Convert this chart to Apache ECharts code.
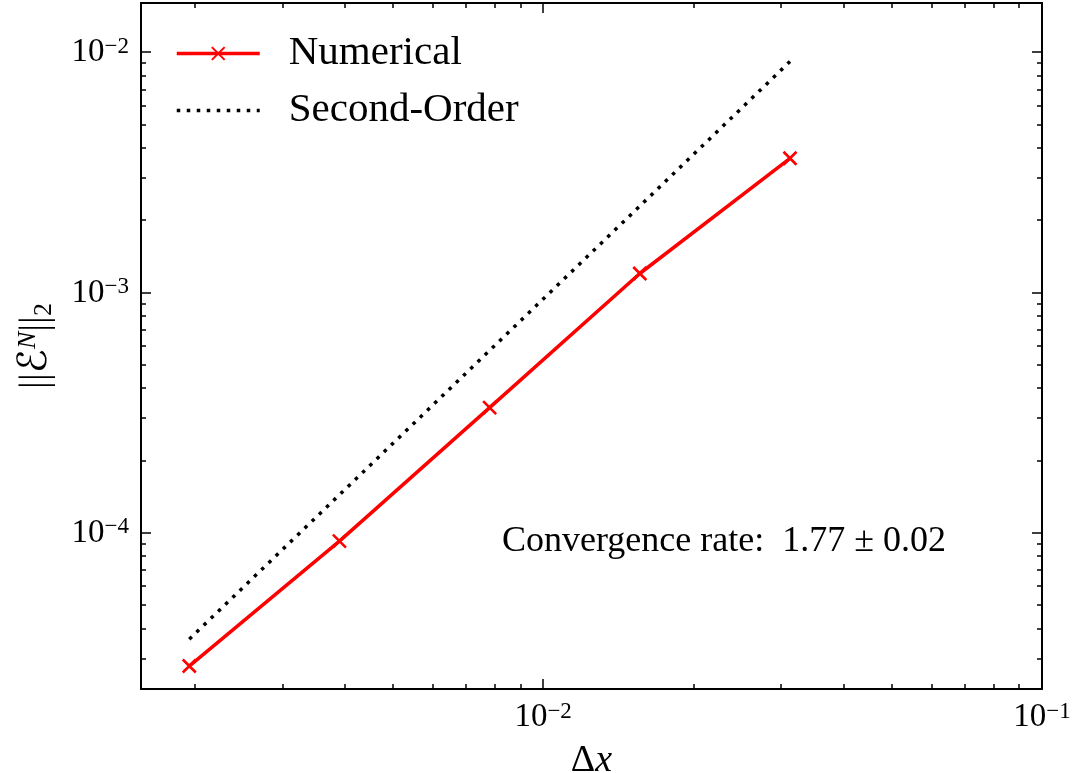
<!DOCTYPE html>
<html>
<head>
<meta charset="utf-8">
<script src="https://cdn.jsdelivr.net/npm/echarts@6/dist/echarts.min.js"></script>
<style>
html,body{margin:0;padding:0;background:#fff;}
#chart{width:1077px;height:773px;}
</style>
</head>
<body>
<div id="chart"></div>
<script>
// ---- data ----
const dx = [0.001953125, 0.00390625, 0.0078125, 0.015625, 0.03125];
const numericalErr = [2.79e-5, 9.24e-5, 3.32e-4, 1.20e-3, 3.62e-3];
const secondOrderErr = [3.61e-5, 1.44e-4, 5.74e-4, 2.29e-3, 9.15e-3];
const seriesNames = ['Numerical', 'Second-Order'];
const xMajorTicks = [0.01, 0.1];
const yMajorTicks = [1e-4, 1e-3, 1e-2];
const xMinorTicks = [0.002,0.003,0.004,0.005,0.006,0.007,0.008,0.009,0.02,0.03,0.04,0.05,0.06,0.07,0.08,0.09];
const yMinorTicks = [3e-5,4e-5,5e-5,6e-5,7e-5,8e-5,9e-5,2e-4,3e-4,4e-4,5e-4,6e-4,7e-4,8e-4,9e-4,2e-3,3e-3,4e-3,5e-3,6e-3,7e-3,8e-3,9e-3];
const annotationText = 'Convergence rate:  1.77 \u00b1 0.02';
const xRange = [0.001563, 0.1];
const yRange = [2.239e-5, 0.01603];

// ---- build ----
const L = v => Math.log10(v);
const FONT = '"Liberation Serif", "DejaVu Serif", serif';
const gridRect = {left: 141, right: 35, top: 3, bottom: 84, containLabel: false, outerBoundsMode: 'none'};

function expLabel(v) {
  const e = Math.round(v);
  return '{b|10}{s|' + (e < 0 ? '\u2212' : '') + Math.abs(e) + '}';
}
const tickRich = {
  b: {fontSize: 33, fontFamily: FONT, color: '#000', lineHeight: 34, verticalAlign: 'bottom'},
  s: {fontSize: 23, fontFamily: FONT, color: '#000', lineHeight: 20, verticalAlign: 'top'}
};

function makeAxis(kind, gridIndex, position, ticks, major, showLabel, showLine, range, extra) {
  const ax = {
    type: 'value',
    gridIndex: gridIndex,
    position: position,
    min: L(range[0]),
    max: L(range[1]),
    scale: true,
    splitLine: {show: false},
    axisLine: {show: showLine, onZero: false, lineStyle: {color: '#000', width: 2}},
    axisTick: {show: true, inside: true, length: major ? 10 : 5,
               customValues: ticks.map(L), lineStyle: {color: '#000', width: 1.5}},
    axisLabel: showLabel ? {
      show: true, customValues: ticks.map(L), formatter: expLabel, rich: tickRich,
      margin: kind === 'x' ? 11 : 12
    } : {show: false},
    axisPointer: {show: false}
  };
  return Object.assign(ax, extra || {});
}

const xAxes = [
  makeAxis('x', 0, 'bottom', xMajorTicks, true, true, true, xRange, {
    name: '{d|\u0394}{i|x}', nameLocation: 'middle', nameGap: 53,
    nameTextStyle: {fontSize: 38, fontFamily: FONT, color: '#000', rich: {
      d: {fontSize: 38, fontFamily: FONT, color: '#000'},
      i: {fontSize: 38, fontFamily: FONT, fontStyle: 'italic', color: '#000'}
    }}
  }),
  makeAxis('x', 0, 'top', xMajorTicks, true, false, true, xRange),
  makeAxis('x', 1, 'bottom', xMinorTicks, false, false, false, xRange),
  makeAxis('x', 1, 'top', xMinorTicks, false, false, false, xRange)
];
const yAxes = [
  makeAxis('y', 0, 'left', yMajorTicks, true, true, true, yRange, {
    name: '{n|||}{e|\u2130}{p|N}{n|||}{q|2}', nameLocation: 'middle', nameRotate: 90, nameGap: 84,
    nameTextStyle: {fontSize: 39, fontFamily: FONT, color: '#000', rich: {
      n: {fontSize: 39, fontFamily: FONT, color: '#000', lineHeight: 42, verticalAlign: 'middle'},
      e: {fontSize: 40, fontFamily: '"DejaVu Serif", "DejaVu Sans", serif', color: '#000', lineHeight: 42, verticalAlign: 'middle'},
      p: {fontSize: 26, fontFamily: FONT, fontStyle: 'italic', color: '#000', lineHeight: 22, verticalAlign: 'top'},
      q: {fontSize: 26, fontFamily: FONT, color: '#000', lineHeight: 22, verticalAlign: 'bottom'}
    }}
  }),
  makeAxis('y', 0, 'right', yMajorTicks, true, false, true, yRange),
  makeAxis('y', 1, 'left', yMinorTicks, false, false, false, yRange),
  makeAxis('y', 1, 'right', yMinorTicks, false, false, false, yRange)
];

const option = {
  animation: false,
  backgroundColor: '#fff',
  grid: [Object.assign({}, gridRect), Object.assign({}, gridRect)],
  xAxis: xAxes,
  yAxis: yAxes,
  legend: {
    data: [
      {name: seriesNames[0]},
      {name: seriesNames[1], itemStyle: {opacity: 0}}
    ],
    orient: 'vertical',
    left: 175, top: 33,
    padding: 0,
    itemWidth: 83, itemHeight: 16, itemGap: 16,
    selectedMode: false,
    lineStyle: {width: 3.5},
    textStyle: {fontSize: 41, fontFamily: FONT, color: '#000', lineHeight: 40, padding: [0, 0, 0, 24]}
  },
  series: [
    {
      name: seriesNames[0], type: 'line', xAxisIndex: 0, yAxisIndex: 0,
      data: dx.map((x, i) => [L(x), L(numericalErr[i])]),
      symbol: 'path://M0,0L10,10M10,0L0,10', symbolSize: 13,
      itemStyle: {color: 'rgba(0,0,0,0)', borderColor: '#ff0000', borderWidth: 2.6},
      lineStyle: {color: '#ff0000', width: 3.5},
      color: '#ff0000',
      silent: true, z: 3
    },
    {
      name: seriesNames[1], type: 'line', xAxisIndex: 0, yAxisIndex: 0,
      data: dx.map((x, i) => [L(x), L(secondOrderErr[i])]),
      symbol: 'none', showSymbol: false,
      lineStyle: {color: '#000', width: 3.5, type: [3.5, 6.5]},
      itemStyle: {color: '#000'},
      color: '#000',
      silent: true, z: 2
    }
  ],
  graphic: [{
    type: 'text', left: 502, top: 524,
    style: {text: annotationText, font: '36px ' + FONT, fill: '#000'}
  }]
};

const chart = echarts.init(document.getElementById('chart'), null, {renderer: 'canvas'});
chart.setOption(option);
</script>
</body>
</html>
